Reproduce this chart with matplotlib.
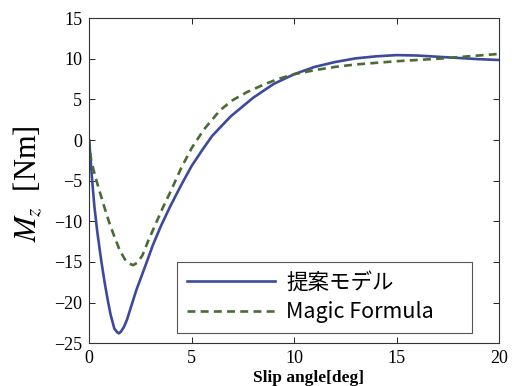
import numpy as np
import matplotlib
matplotlib.use("Agg")
import matplotlib.pyplot as plt

plt.rcParams['font.family'] = ['Liberation Serif', 'DejaVu Serif']
plt.rcParams['mathtext.fontset'] = 'stix'

# proposed model (solid blue)
x_model = [0, 0.05, 0.15, 0.26, 0.4, 0.59, 0.75, 0.91, 1.05, 1.23, 1.35, 1.45, 1.55,
           1.7, 1.85, 2.05, 2.3, 2.55, 2.8, 3.1, 3.5, 3.95, 4.5, 5.0, 5.5, 6.0, 6.9,
           8.0, 9.0, 10.0, 11.0, 12.0, 13.0, 14.0, 15.0, 16.0, 17.0, 18.0, 19.0, 20.0]
mz_model = [0, -1.6, -5.0, -8.2, -11.3, -14.8, -17.4, -19.7, -21.5, -23.2, -23.6, -23.8, -23.6,
            -23.0, -22.1, -20.5, -18.5, -16.8, -15.1, -13.0, -10.6, -8.2, -5.5, -3.2, -1.3, 0.5, 2.9,
            5.2, 6.9, 8.1, 9.0, 9.6, 10.05, 10.3, 10.45, 10.4, 10.25, 10.1, 9.95, 9.85]

# magic formula (dashed green)
x_mf = [0, 0.1, 0.3, 0.5, 0.75, 1.0, 1.25, 1.5, 1.75, 1.95, 2.15, 2.35, 2.6, 2.9, 3.2,
        3.6, 4.0, 4.5, 5.0, 5.6, 6.4, 7.0, 7.7, 8.5, 9.2, 10.0, 11.0, 12.0, 13.0, 14.0,
        15.0, 16.0, 17.0, 18.0, 19.0, 20.0]
mz_mf = [0, -2.5, -4.5, -6.2, -8.3, -10.3, -12.0, -13.6, -14.7, -15.2, -15.4, -15.1, -14.2, -12.3, -10.6,
         -8.3, -6.2, -3.4, -1.0, 1.3, 3.7, 4.9, 5.9, 6.8, 7.5, 8.1, 8.6, 9.0, 9.3, 9.5,
         9.7, 9.85, 10.0, 10.2, 10.4, 10.6]

labels = ['提案モデル', 'Magic Formula']

fig = plt.figure(figsize=(5.12, 3.86), dpi=100)
ax = fig.add_axes([0.174, 0.111, 0.801, 0.842])

l1, = ax.plot(x_model, mz_model, color='#3d4a9b', lw=1.9)
l2, = ax.plot(x_mf, mz_mf, color='#4b6b34', lw=1.9, ls=(0, (3, 2)))

ax.set_xlim(0, 20)
ax.set_ylim(-25, 15)
ax.set_xticks([0, 5, 10, 15, 20])
ax.set_yticks([-25, -20, -15, -10, -5, 0, 5, 10, 15])
ax.tick_params(direction='in', top=True, right=True, labelsize=13, length=4, width=0.6, pad=5)
for s in ax.spines.values():
    s.set_linewidth(0.8)
    s.set_color('#333333')

ax.set_ylabel('$M_z$  [Nm]', fontsize=22)
ax.yaxis.set_label_coords(-0.11, 0.49)
ax.set_xlabel('Slip angle[deg]', fontsize=12.5, fontweight='bold')
ax.xaxis.set_label_coords(0.534, -0.082)

leg = ax.legend([l1, l2], labels, loc='lower left', mode='expand',
                bbox_to_anchor=(0.215, 0.031, 0.719, 0.218), borderaxespad=0,
                prop={'family': ['Noto Sans CJK JP', 'DejaVu Sans'], 'size': 15.5},
                fancybox=False, edgecolor='#555555', framealpha=1,
                handlelength=4.1, borderpad=0.45, labelspacing=0.35, handletextpad=0.5)
leg.get_frame().set_linewidth(0.8)

fig.savefig('out.png', dpi=100)
